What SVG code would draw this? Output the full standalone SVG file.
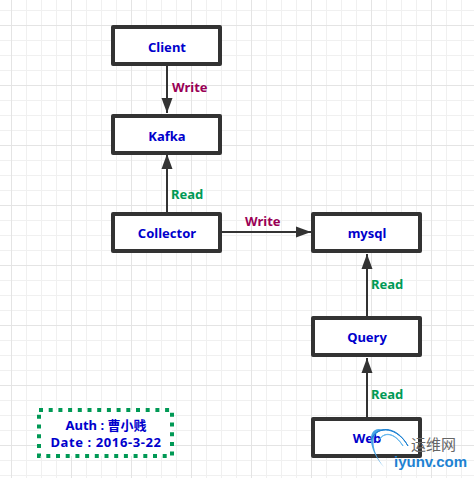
<svg xmlns="http://www.w3.org/2000/svg" width="474" height="478" viewBox="0 0 474 478">
<defs>
<pattern id="g" width="15" height="15" patternUnits="userSpaceOnUse" x="11" y="10"><path d="M0.5 0V15M0 0.5H15" stroke="#f0f0f0" fill="none"/></pattern>
<pattern id="G" width="60" height="60" patternUnits="userSpaceOnUse" x="11" y="25"><path d="M0.5 0V60M0 0.5H60" stroke="#e4e4e4" fill="none"/></pattern>
<marker id="a" markerUnits="userSpaceOnUse" markerWidth="16" markerHeight="12" refX="15" refY="6" orient="auto"><path d="M0 0.5L15 6L0 11.5Z" fill="#333"/></marker>
</defs>
<style>
.n{fill:#fff;stroke:#333;stroke-width:4;stroke-linejoin:round}
.c{stroke:#333;stroke-width:2;fill:none;marker-end:url(#a)}
text{font-family:"Noto Sans","Noto Sans CJK SC",sans-serif;font-weight:700;font-size:13px}
.t{fill:#0000cc;text-anchor:middle}
.w{fill:#990055}
.r{fill:#009955}
</style>
<rect width="474" height="478" fill="#fff"/>
<rect width="474" height="478" fill="url(#g)"/>
<rect width="474" height="478" fill="url(#G)"/>
<g id="connectors">
<path class="c" d="M167 65V113"/>
<path class="c" d="M167 212V154"/>
<path class="c" d="M221 232H311"/>
<path class="c" d="M367 316V254"/>
<path class="c" d="M367 417V358"/>
<text class="w" x="172" y="92">Write</text>
<text class="r" x="171" y="199">Read</text>
<text class="w" x="245" y="226">Write</text>
<text class="r" x="371" y="289">Read</text>
<text class="r" x="371" y="399">Read</text>
</g>
<g id="client"><rect class="n" x="113" y="27" width="107" height="37"/><text class="t" x="167" y="52">Client</text></g>
<g id="kafka"><rect class="n" x="113" y="116" width="107" height="37"/><text class="t" x="167" y="141">Kafka</text></g>
<g id="collector"><rect class="n" x="113" y="214" width="107" height="37"/><text class="t" x="167" y="238">Collector</text></g>
<g id="mysql"><rect class="n" x="313" y="214" width="107" height="37"/><text class="t" x="367" y="238">mysql</text></g>
<g id="query"><rect class="n" x="313" y="318" width="107" height="37"/><text class="t" x="367" y="342">Query</text></g>
<g id="web"><rect class="n" x="313" y="419" width="107" height="37"/><text class="t" x="367" y="443">Web</text></g>
<g id="auth"><rect x="39" y="410" width="133" height="46" fill="#fff" stroke="#009955" stroke-width="4" stroke-dasharray="4 5.7"/><text class="t" x="106" y="430">Auth : 曹小贱</text><text class="t" x="106" y="447" style="letter-spacing:.6px">Date : 2016-3-22</text></g>
<g id="watermark">
<path d="M384 467C364 445 368 420 388 432C374 424 366 445 384 467Z" fill="#4aa6e6"/>
<path d="M408 446C396 424 376 426 371 440C378 424 398 428 408 446Z" fill="#1e82d2" stroke="#1e82d2"/>
<path d="M403 446C394 432 384 432 379 440C385 430 396 434 403 446Z" fill="#66b8ee" stroke="#66b8ee"/>
<text x="411" y="450" fill="#666" style="font-weight:400;font-size:15px">运维网</text>
<text x="394" y="467" fill="#1e82d2" style="font-family:'Liberation Sans',sans-serif;font-size:15px">iyunv.com</text>
</g>
</svg>
